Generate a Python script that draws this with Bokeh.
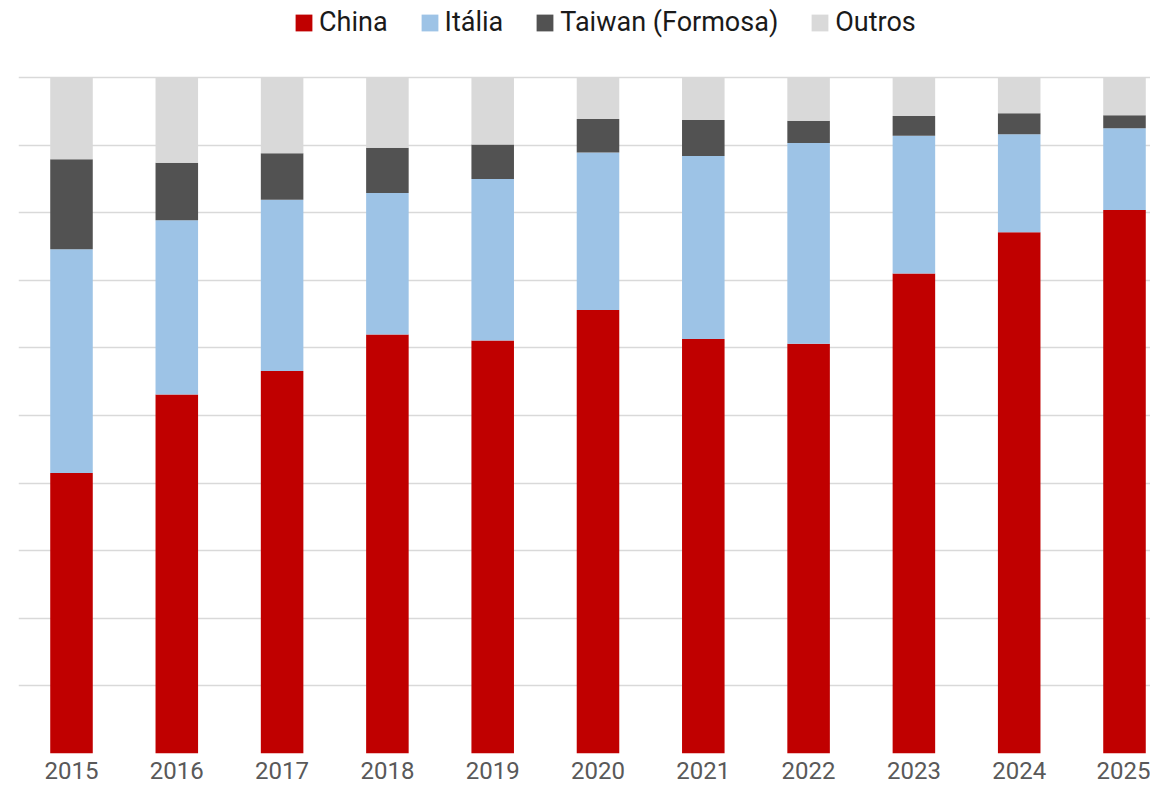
from bokeh.plotting import figure
from bokeh.models import Range1d, FixedTicker, Legend, LegendItem
from bokeh.embed import file_html
from bokeh.resources import INLINE

years = ["2015", "2016", "2017", "2018", "2019", "2020", "2021", "2022", "2023", "2024", "2025"]
china = [41.5, 53.1, 56.6, 62.0, 61.1, 65.6, 61.3, 60.6, 71.0, 77.1, 80.4]
italia = [33.1, 25.8, 25.3, 20.9, 23.9, 23.3, 27.1, 29.7, 20.4, 14.5, 12.1]
taiwan = [13.3, 8.5, 6.9, 6.7, 5.1, 4.95, 5.3, 3.3, 2.9, 3.1, 1.9]
outros = [round(100 - c - i - t, 2) for c, i, t in zip(china, italia, taiwan)]
series_names = ["China", "Itália", "Taiwan (Formosa)", "Outros"]
colors = ["#C00000", "#9DC3E6", "#525252", "#D9D9D9"]

x = list(range(len(years)))
data = {"x": x, "china": china, "italia": italia, "taiwan": taiwan, "outros": outros}

W, H = 1150, 783
LEFT, BOTTOM = 18, 30
FRAME_H = H - BOTTOM          # 753
SPACING = 105.3               # px per category
X0 = 53 / SPACING             # 2015 centred 53 px right of frame edge
PX_PER_UNIT = 676 / 100.0     # 0..100 spans 676 px
Y_END = 100 + (FRAME_H - 676) / PX_PER_UNIT

p = figure(width=W, height=H, output_backend="svg", toolbar_location=None,
           x_range=Range1d(-X0, (W - LEFT) / SPACING - X0), y_range=Range1d(0, Y_END),
           min_border_left=LEFT, min_border_right=0, min_border_top=0, min_border_bottom=BOTTOM)
p.outline_line_color = None
p.background_fill_color = "white"

rs = p.vbar_stack(["china", "italia", "taiwan", "outros"], x="x", width=0.404, color=colors,
                  line_color=None, source=data)

p.yaxis.visible = False
p.xgrid.visible = False
p.ygrid.ticker = FixedTicker(ticks=list(range(0, 101, 10)))
p.ygrid.grid_line_color = "#D9D9D9"
p.ygrid.grid_line_width = 1.5

p.xaxis.ticker = FixedTicker(ticks=x)
p.xaxis.major_label_overrides = {i: y for i, y in zip(x, years)}
p.xaxis.axis_line_color = None
p.xaxis.major_tick_line_color = None
p.xaxis.minor_tick_line_color = None
p.xaxis.major_label_standoff = 2
p.xaxis.major_label_text_font = "Roboto"
p.xaxis.major_label_text_font_size = "24px"
p.xaxis.major_label_text_color = "#595959"

legend = Legend(items=[LegendItem(label=n, renderers=[r]) for n, r in zip(series_names, rs)],
                orientation="horizontal", location=(275, 715),
                glyph_width=21, glyph_height=21, label_standoff=5, spacing=31,
                padding=0, margin=0, border_line_color=None, background_fill_alpha=0,
                label_text_font="Roboto", label_text_font_size="27px", label_text_color="#1A1A1A")
p.add_layout(legend, "center")

open("out.html", "w").write(file_html(p, INLINE))
